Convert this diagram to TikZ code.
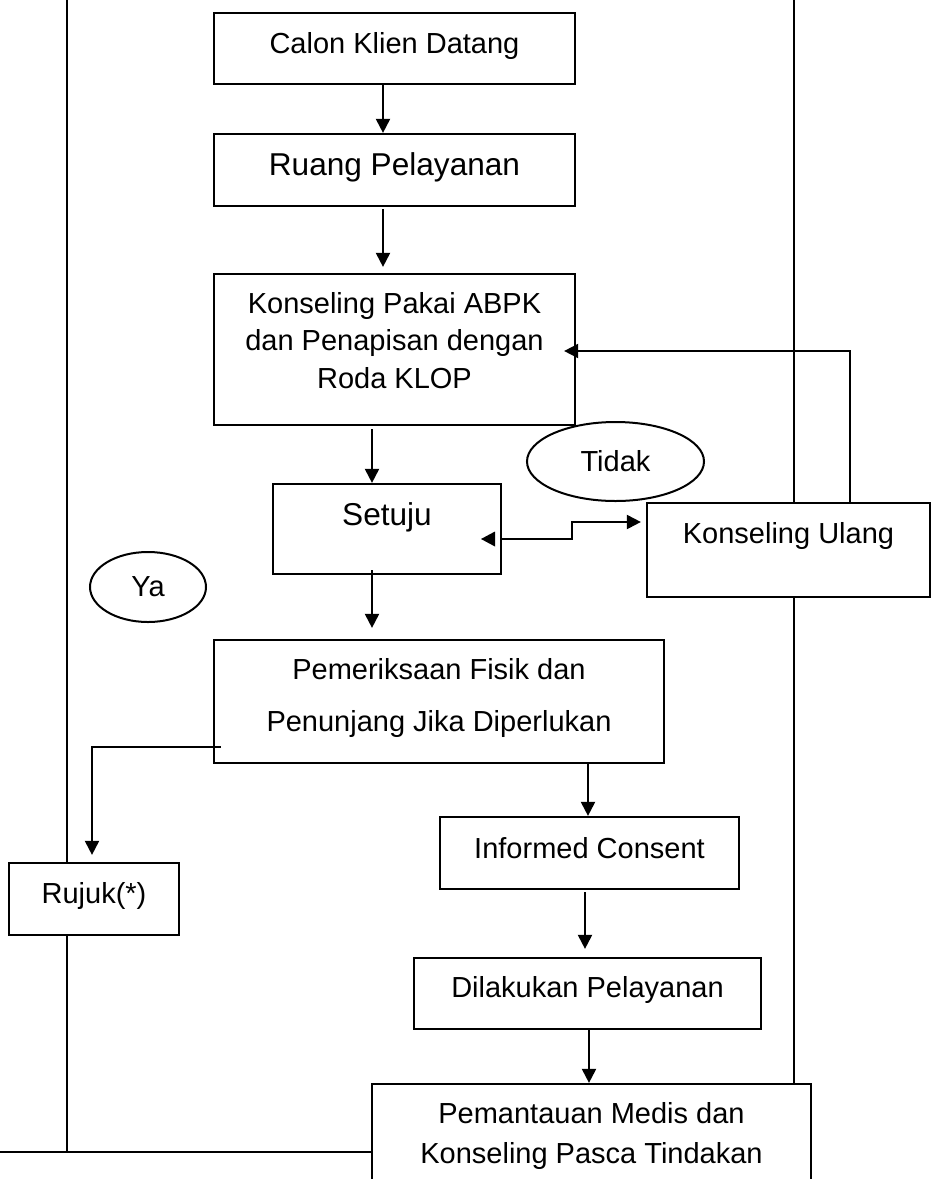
\documentclass[tikz,border=0pt]{standalone}
\usepackage{fontspec}
\setmainfont{Liberation Sans}
\usetikzlibrary{arrows.meta,shapes.geometric}
\newcommand\fsnorm{\fontsize{29}{35}\selectfont}
\newcommand\fsbig{\fontsize{31.6}{38}\selectfont}
\tikzset{
  box/.style={draw, line width=2.2pt, fill=white, rectangle, inner sep=0pt},
  oval/.style={draw, line width=2pt, fill=white, ellipse, inner sep=0pt, font=\fsnorm},
  txt/.style={anchor=base, inner sep=0pt, font=\fsnorm},
  bigtxt/.style={anchor=base, inner sep=0pt, font=\fsbig},
  arr/.style={line width=2pt, -{Triangle[length=14pt,width=14pt]}},
  divider/.style={line width=2pt},
}
\begin{document}
\begin{tikzpicture}[x=1pt, y=-1pt]
\useasboundingbox (0,0) rectangle (931,1179);
\clip (0,0) rectangle (931,1179);

% swim-lane borders
\coordinate (ltop) at (67,0);
\coordinate (lbot) at (67,1152);
\coordinate (bleft) at (0,1152);
\coordinate (rtop) at (794,0);
\draw[divider] (ltop) -- (lbot);

% columns of the vertical connectors
\coordinate (colA) at (383,0);
\coordinate (colB) at (372,0);
\coordinate (colC) at (588,0);
\coordinate (colD) at (585,0);
\coordinate (colE) at (589,0);
\coordinate (colF) at (850,0);
\coordinate (colG) at (92,0);

% process boxes
\node[box, minimum width=361pt, minimum height=71pt]  (calon)  at (394.5,48.5) {};
\node[box, minimum width=361pt, minimum height=72pt]  (ruang)  at (394.5,170)  {};
\node[box, minimum width=361pt, minimum height=151pt] (konsel) at (394.5,349.5) {};
\node[box, minimum width=228pt, minimum height=90pt]  (setuju) at (387,529)    {};
\node[box, minimum width=450pt, minimum height=123pt] (pemer)  at (439,701.5)  {};
\node[box, minimum width=170pt, minimum height=72pt]  (rujuk)  at (94,899)     {};
\node[box, minimum width=299pt, minimum height=72pt]  (inform) at (589.5,853)  {};
\node[box, minimum width=347pt, minimum height=71pt]  (laku)   at (587.5,993.5) {};
\node[box, minimum width=439pt, minimum height=106pt] (pantau) at (591.5,1137) {};

\draw[divider] (bleft) -- (pantau.west |- bleft);
\draw[divider] (rtop) -- (pantau.north -| rtop);
% the right border runs behind this box
\node[box, minimum width=283pt, minimum height=94pt]  (ulang)  at (788.5,550)  {};

% decision labels
\node[oval, minimum width=116pt, minimum height=70pt] (ya)    at (148,587)     {Ya};
\node[oval, minimum width=177pt, minimum height=79pt] (tidak) at (615.5,461.5) {Tidak};

% box texts
\node[txt]    (calon-t)   at (394.5,53.4) {Calon Klien Datang};
\node[bigtxt] (ruang-t)   at (394.5,175.3) {Ruang Pelayanan};
\node[txt]    (konsel-t1) at (394.5,313)   {Konseling Pakai ABPK};
\node[txt]    (konsel-t2) at (394.5,350.5) {dan Penapisan dengan};
\node[txt]    (konsel-t3) at (394.5,388)   {Roda KLOP};
\node[bigtxt] (setuju-t)  at (387,525)     {Setuju};
\node[txt]    (ulang-t)   at (788.5,543)   {Konseling Ulang};
\node[txt]    (pemer-t1)  at (439,679)     {Pemeriksaan Fisik dan};
\node[txt]    (pemer-t2)  at (439,731)     {Penunjang Jika Diperlukan};
\node[txt]    (rujuk-t)   at (94,903)      {Rujuk(*)};
\node[txt]    (inform-t)  at (589.5,858)   {Informed Consent};
\node[txt]    (laku-t)    at (587.5,997)   {Dilakukan Pelayanan};
\node[txt]    (pantau-t1) at (591.5,1123)  {Pemantauan Medis dan};
\node[txt]    (pantau-t2) at (591.5,1163)  {Konseling Pasca Tindakan};

% main flow
\draw[arr] (calon.south -| colA) -- (ruang.north -| colA);
\draw[arr, shorten <=2pt, shorten >=6pt] (ruang.south -| colA) -- (konsel.north -| colA);
\draw[arr, shorten <=3pt] (konsel.south -| colB) -- (setuju.north -| colB);
\draw[arr, shorten <=-5pt, shorten >=11pt] (setuju.south -| colB) -- (pemer.north -| colB);
\draw[arr] (pemer.south -| colC) -- (inform.north -| colC);
\draw[arr, shorten <=2pt, shorten >=8pt] (inform.south -| colD) -- (laku.north -| colD);
\draw[arr] (laku.south -| colE) -- (pantau.north -| colE);

% referral branch
\draw[arr, shorten >=7pt] ([xshift=8pt,yshift=-45.5pt]pemer.west) -| (rujuk.north -| colG);

% disagreement: to repeat counselling and back
\coordinate (jog) at (572,530);
\draw[arr, shorten >=5pt] ([yshift=-10pt]setuju.east) -| (jog) |- ([yshift=28pt]ulang.west);
\fill (481,539) -- (495,531.5) -- (495,546.5) -- cycle;
\draw[arr] (ulang.north -| colF) |- ([xshift=-12pt,yshift=-1.5pt]konsel.east);
\end{tikzpicture}
\end{document}
